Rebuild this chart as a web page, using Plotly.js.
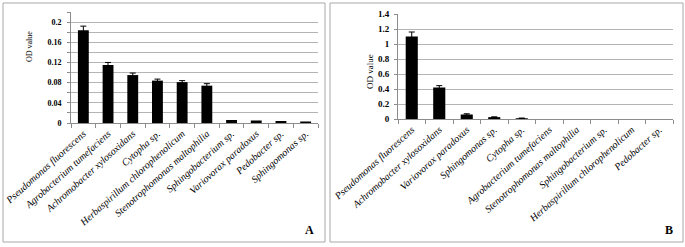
<!DOCTYPE html>
<html>
<head>
<meta charset="utf-8">
<script src="https://cdn.plot.ly/plotly-3.0.1.min.js"></script>
<style>html,body{margin:0;padding:0;background:#fff;}#chart{width:685px;height:247px;}</style>
</head>
<body>
<div id="chart"></div>
<script>
// Panel A data
const catsA = ["Pseudomonas fluorescens","Agrobacterium tumefaciens","Achromobacter xylosoxidans","Cytopha sp.","Herbaspirillum chlorophenolicum","Stenotrophomonas maltophilia","Sphingobacterium sp.","Variovorax paradoxus","Pedobacter sp.","Sphingomonas sp."];
const valsA = [0.184, 0.115, 0.095, 0.084, 0.081, 0.074, 0.006, 0.005, 0.004, 0.003];
const errA  = [0.008, 0.005, 0.004, 0.003, 0.003, 0.004, 0, 0, 0, 0];
// Panel B data
const catsB = ["Pseudomonas fluorescens","Achromobacter xylosoxidans","Variovorax paradoxus","Sphingomonas sp.","Cytopha sp.","Agrobacterium tumefaciens","Stenotrophomonas maltophilia","Sphingobacterium sp.","Herbaspirillum chlorophenolicum","Pedobacter sp."];
const valsB = [1.10, 0.42, 0.06, 0.025, 0.01, 0, 0, 0, 0, 0];
const errB  = [0.06, 0.025, 0.01, 0.004, 0.002, 0, 0, 0, 0, 0];

const W = 685, H = 247;
const px = x => x / W;
const py = y => 1 - y / H;

const serif = "Liberation Serif, Times New Roman, serif";
const gridc = "#b4b4b4";
const axc = "#8c8c8c";

const errShown = e => e.map(v => v > 0 ? v : NaN);
const valShown = a => a.map(v => v > 0 ? v : NaN);

const traces = [
  {type:"bar", x:catsA, y:valsA, xaxis:"x", yaxis:"y", marker:{color:"#000"}, width:0.44,
   error_y:{type:"data", array:errShown(errA), visible:true, color:"#000", thickness:1, width:3}, hoverinfo:"skip"},
  {type:"bar", x:catsB, y:valShown(valsB), xaxis:"x2", yaxis:"y2", marker:{color:"#000"}, width:0.44,
   error_y:{type:"data", array:errShown(errB), visible:true, color:"#000", thickness:1, width:3}, hoverinfo:"skip"}
];

const xcommon = {
  type:"category", showline:true, linecolor:axc, linewidth:1,
  ticks:"outside", tickson:"boundaries", ticklen:4, tickcolor:axc,
  tickangle:-42, tickfont:{family:serif, size:10, style:"italic", color:"#000"},
  showgrid:false, zeroline:false, fixedrange:true, automargin:false
};

const layout = {
  width:W, height:H, margin:{l:0,r:0,t:0,b:0},
  paper_bgcolor:"#fff", plot_bgcolor:"#fff", showlegend:false, bargap:0.5,
  xaxis:Object.assign({}, xcommon, {domain:[px(71), px(318)], anchor:"y"}),
  yaxis:{domain:[py(123), py(12)], anchor:"x", range:[0,0.22], tick0:0, dtick:0.04,
    showline:true, linecolor:axc, linewidth:1, ticks:"outside", ticklen:3, tickcolor:axc,
    showgrid:true, gridcolor:gridc, gridwidth:1, zeroline:false, ticklabelstandoff:4,
    minor:{dtick:0.02, tick0:0, showgrid:true, gridcolor:gridc, gridwidth:1, ticks:"outside", ticklen:3, tickcolor:axc},
    tickfont:{family:serif, size:8, weight:"bold", color:"#000"}, automargin:false, fixedrange:true},
  xaxis2:Object.assign({}, xcommon, {domain:[px(398), px(673)], anchor:"y2"}),
  yaxis2:{domain:[py(119), py(14)], anchor:"x2", range:[0,1.4], tick0:0, dtick:0.2,
    showline:true, linecolor:axc, linewidth:1, ticks:"outside", ticklen:3, tickcolor:axc,
    showgrid:true, gridcolor:gridc, gridwidth:1, zeroline:false, ticklabelstandoff:3,
    tickfont:{family:serif, size:9, weight:"bold", color:"#000"}, automargin:false, fixedrange:true},
  shapes:[
    {type:"rect", xref:"paper", yref:"paper", x0:px(3), x1:px(325), y0:py(242), y1:py(3), line:{color:"#a8a8a8", width:1}},
    {type:"rect", xref:"paper", yref:"paper", x0:px(330), x1:px(683), y0:py(242), y1:py(3), line:{color:"#a8a8a8", width:1}}
  ],
  annotations:[
    {text:"OD value", xref:"paper", yref:"paper", x:px(29), y:py(47), textangle:-90, showarrow:false,
     font:{family:serif, size:8, color:"#000"}, xanchor:"center", yanchor:"middle"},
    {text:"OD value", xref:"paper", yref:"paper", x:px(370), y:py(72), textangle:-90, showarrow:false,
     font:{family:serif, size:9, color:"#000"}, xanchor:"center", yanchor:"middle"},
    {text:"A", xref:"paper", yref:"paper", x:px(309), y:py(230), showarrow:false,
     font:{family:serif, size:12, weight:"bold", color:"#000"}, xanchor:"center", yanchor:"middle"},
    {text:"B", xref:"paper", yref:"paper", x:px(669), y:py(230), showarrow:false,
     font:{family:serif, size:12, weight:"bold", color:"#000"}, xanchor:"center", yanchor:"middle"}
  ]
};

Plotly.newPlot("chart", traces, layout, {displayModeBar:false, staticPlot:true});
</script>
</body>
</html>
